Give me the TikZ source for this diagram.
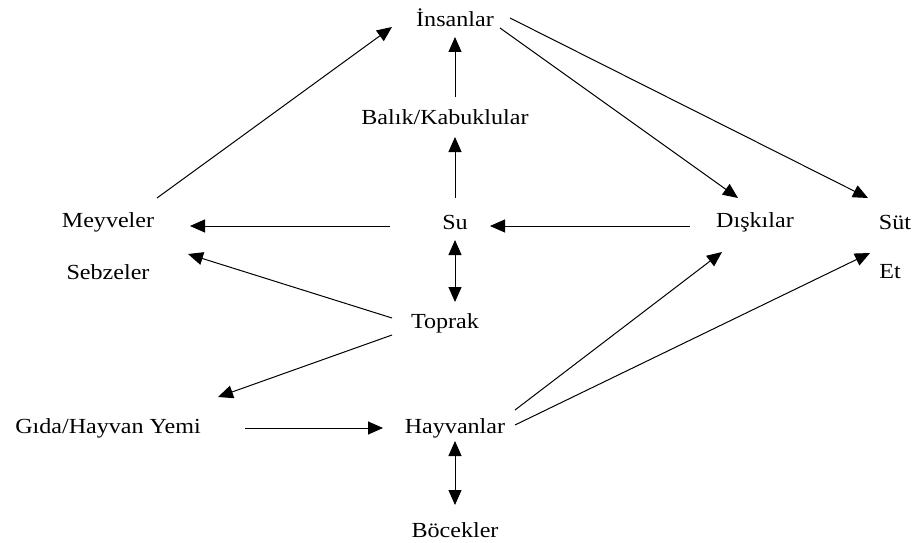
\documentclass[tikz,border=0pt]{standalone}
\usepackage{fontspec}
\setmainfont{Liberation Serif}[FakeStretch=1.12]
\usetikzlibrary{arrows.meta}
\begin{document}
\begin{tikzpicture}[x=1pt,y=-1pt,
  lbl/.style={font=\fontsize{21.5}{25}\selectfont, inner sep=0pt},
  arr/.style={line width=1pt, -{Triangle[length=15pt,width=13pt]}},
  darr/.style={line width=1pt, {Triangle[length=15pt,width=13pt]}-{Triangle[length=15pt,width=13pt]}}]
\useasboundingbox[fill=white] (0,0) rectangle (914,543);
\node[lbl] (ins) at (455,18) {İnsanlar};
\node[lbl] (bal) at (445,117) {Balık/Kabuklular};
\node[lbl] (mey) at (108,222) {Meyveler};
\node[lbl] (su) at (455,222) {Su};
\node[lbl] (dis) at (755,222) {Dışkılar};
\node[lbl] (sut) at (895,222) {Süt};
\node[lbl] (seb) at (108,272) {Sebzeler};
\node[lbl] (et) at (890,272) {Et};
\node[lbl] (top) at (445,323) {Toprak};
\node[lbl] (gida) at (108,428) {Gıda/Hayvan Yemi};
\node[lbl] (hay) at (455,428) {Hayvanlar};
\node[lbl] (boc) at (455,530) {Böcekler};

\draw[arr] ([shift={(49,-24)}]mey.center) -- ([shift={(-63,9)}]ins.center);
\draw[arr] ([shift={(10,-20)}]bal.center) -- ([shift={(0,19)}]ins.center);
\draw[arr] ([shift={(0,-24)}]su.center) -- ([shift={(10,20)}]bal.center);
\draw[arr] ([shift={(45,10)}]ins.center) -- ([shift={(-17,-24)}]dis.center);
\draw[arr] ([shift={(55,0)}]ins.center) -- ([shift={(-27,-24)}]sut.center);
\draw[arr] ([shift={(-65,4)}]su.center) -- ([shift={(82,4)}]mey.center);
\draw[arr] ([shift={(-65,4)}]dis.center) -- ([shift={(35,4)}]su.center);
\draw[darr] ([shift={(0,18)}]su.center) -- ([shift={(10,-21)}]top.center);
\draw[arr] ([shift={(-53,-5)}]top.center) -- ([shift={(80,-18)}]seb.center);
\draw[arr] ([shift={(-53,12)}]top.center) -- ([shift={(110,-31)}]gida.center);
\draw[arr] ([shift={(137,0)}]gida.center) -- ([shift={(-72,0)}]hay.center);
\draw[arr] ([shift={(60,-18)}]hay.center) -- ([shift={(-33,30)}]dis.center);
\draw[arr] ([shift={(60,-3)}]hay.center) -- ([shift={(-20,-19)}]et.center);
\draw[darr] ([shift={(0,13)}]hay.center) -- ([shift={(0,-25)}]boc.center);
\end{tikzpicture}
\end{document}
